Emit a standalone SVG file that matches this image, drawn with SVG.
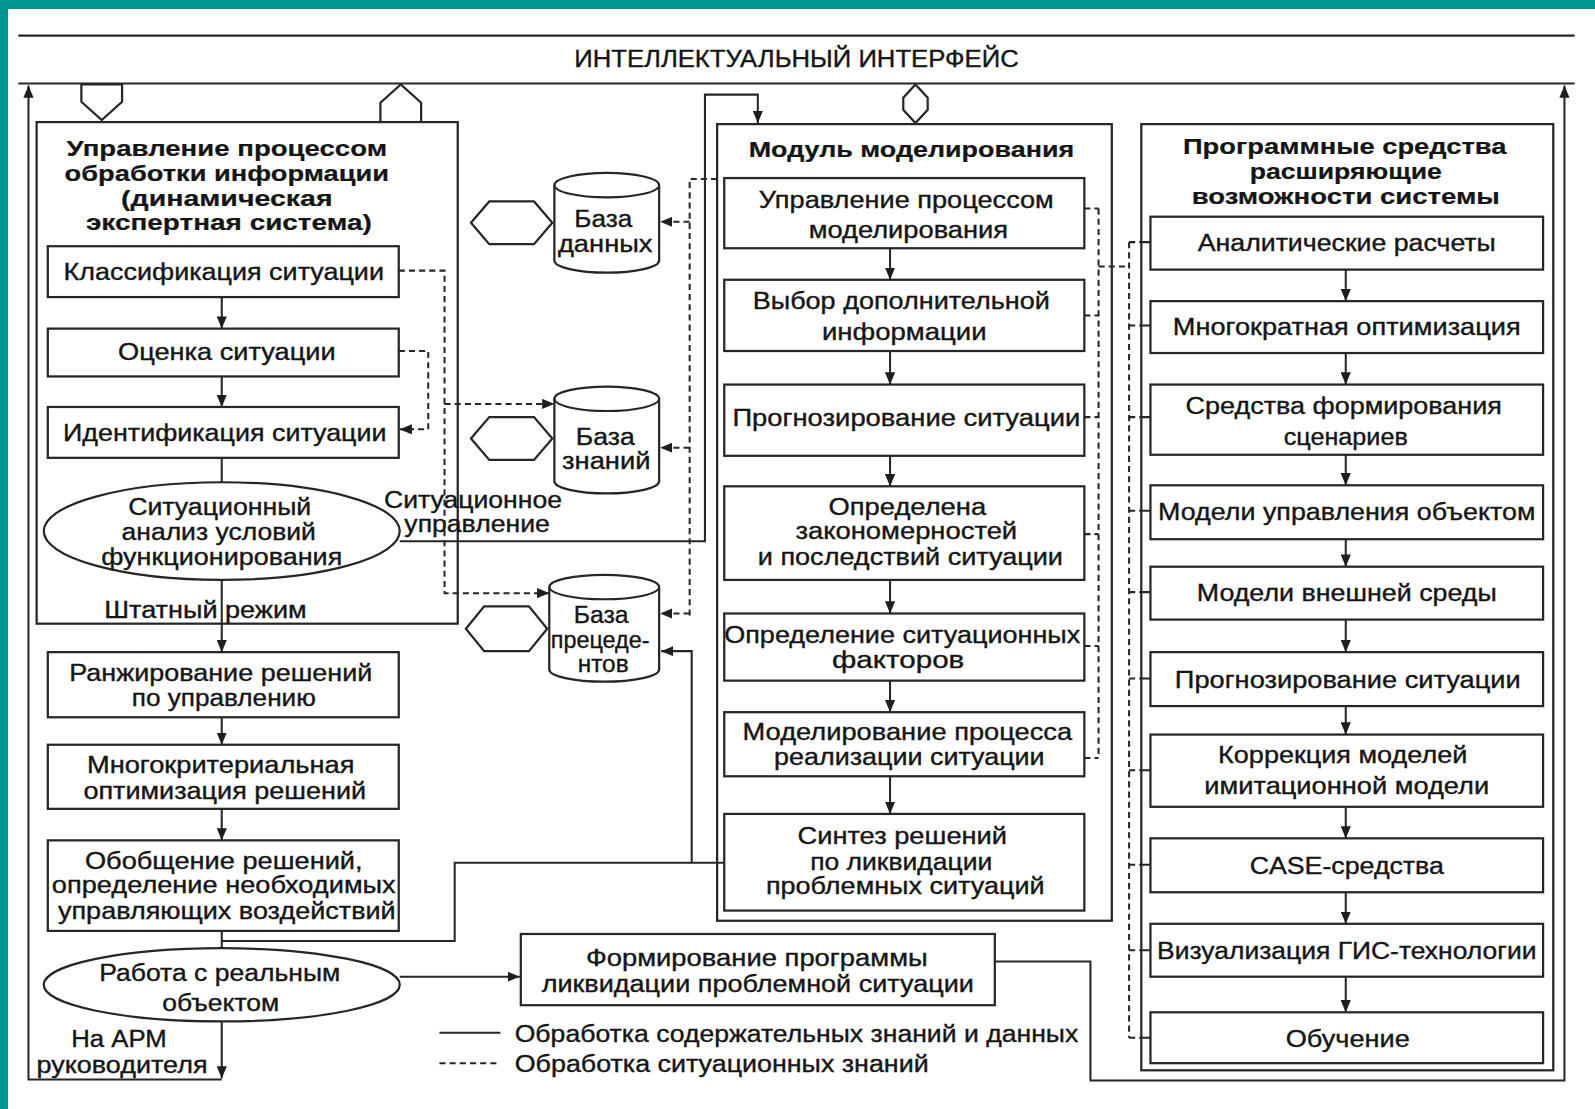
<svg xmlns="http://www.w3.org/2000/svg" width="1595" height="1109" viewBox="0 0 1595 1109">
  <defs>
    <style>
      .b { fill: #ffffff; stroke: #262626; stroke-width: 2.2; }
      .l { fill: none; stroke: #262626; stroke-width: 2; }
      .d { fill: none; stroke: #262626; stroke-width: 2; stroke-dasharray: 6 4; }
      .t { font-family: "Liberation Sans", Arial, sans-serif; font-size: 23px; fill: #151515; stroke: #151515; stroke-width: 0.35; text-anchor: middle; }
      .tb { font-weight: bold; font-size: 22.5px; stroke-width: 0.2; }
      .ts { text-anchor: start; }
    </style>
    <marker id="ah" viewBox="0 0 12 10" refX="12" refY="5" markerWidth="12" markerHeight="10" markerUnits="userSpaceOnUse" orient="auto">
      <path d="M0,0 L12,5 L0,10 z" fill="#1e1e1e"/>
    </marker>
  </defs>

  <!-- page frame -->
  <rect x="0" y="0" width="1595" height="1109" fill="#00968f"/>
  <rect x="8" y="9" width="1587" height="1100" fill="#ffffff"/>

  <g transform="scale(1.0172,1.0174)">
    <!-- interface band -->
    <g id="interface">
      <line class="l" x1="18" y1="35" x2="1548" y2="35"/>
      <line class="l" x1="18" y1="82" x2="1548" y2="82"/>
      <text class="t" x="783" y="66" font-size="22.5" textLength="437" lengthAdjust="spacingAndGlyphs">ИНТЕЛЛЕКТУАЛЬНЫЙ ИНТЕРФЕЙС</text>
      <polygon class="b" points="80,83 120,83 120,100 100,118 80,100"/>
      <polygon class="b" points="374,120 374,101 394,83 414,101 414,120"/>
      <polygon class="b" points="900,83 912,96 912,108 900,121 888,108 888,96"/>
    </g>

    <!-- expert system block -->
    <g id="expert-system">
      <rect class="b" x="36" y="120" width="414" height="493"/>
      <g class="t tb">
        <text x="223" y="153" textLength="315" lengthAdjust="spacingAndGlyphs">Управление процессом</text>
        <text x="223" y="178" textLength="319" lengthAdjust="spacingAndGlyphs">обработки информации</text>
        <text x="223" y="202" textLength="208" lengthAdjust="spacingAndGlyphs">(динамическая</text>
        <text x="225" y="226" textLength="281" lengthAdjust="spacingAndGlyphs">экспертная система)</text>
      </g>
    </g>
    <g id="classify">
      <rect class="b" x="47" y="242" width="345" height="50"/>
      <text class="t" x="220" y="275" textLength="315" lengthAdjust="spacingAndGlyphs">Классификация ситуации</text>
    </g>
    <g id="assess">
      <rect class="b" x="47" y="323" width="345" height="47"/>
      <text class="t" x="223" y="354" textLength="214" lengthAdjust="spacingAndGlyphs">Оценка ситуации</text>
    </g>
    <g id="identify">
      <rect class="b" x="47" y="400" width="345" height="50"/>
      <text class="t" x="221" y="433" textLength="318" lengthAdjust="spacingAndGlyphs">Идентификация ситуации</text>
    </g>
    <g id="analysis">
      <ellipse class="b" cx="218" cy="522" rx="175" ry="48"/>
      <text class="t" x="216" y="506" textLength="180" lengthAdjust="spacingAndGlyphs">Ситуационный</text>
      <text class="t" x="215" y="531" textLength="191" lengthAdjust="spacingAndGlyphs">анализ условий</text>
      <text class="t" x="218" y="555" textLength="237" lengthAdjust="spacingAndGlyphs">функционирования</text>
    </g>
    <g id="ranking">
      <rect class="b" x="47" y="641" width="345" height="64"/>
      <text class="t" x="217" y="669" textLength="298" lengthAdjust="spacingAndGlyphs">Ранжирование решений</text>
      <text class="t" x="220" y="694" textLength="181" lengthAdjust="spacingAndGlyphs">по управлению</text>
    </g>
    <g id="multicriteria">
      <rect class="b" x="47" y="732" width="345" height="63"/>
      <text class="t" x="217" y="760" textLength="263" lengthAdjust="spacingAndGlyphs">Многокритериальная</text>
      <text class="t" x="221" y="785" textLength="278" lengthAdjust="spacingAndGlyphs">оптимизация решений</text>
    </g>
    <g id="generalize">
      <rect class="b" x="47" y="826" width="345" height="89"/>
      <text class="t" x="220" y="854" textLength="273" lengthAdjust="spacingAndGlyphs">Обобщение решений,</text>
      <text class="t" x="220" y="878" textLength="338" lengthAdjust="spacingAndGlyphs">определение необходимых</text>
      <text class="t" x="223" y="903" textLength="332" lengthAdjust="spacingAndGlyphs">управляющих воздействий</text>
    </g>
    <g id="real-object">
      <ellipse class="b" cx="218" cy="968" rx="175" ry="36"/>
      <text class="t" x="216" y="964" textLength="237" lengthAdjust="spacingAndGlyphs">Работа с реальным</text>
      <text class="t" x="217" y="994" textLength="115" lengthAdjust="spacingAndGlyphs">объектом</text>
    </g>
    <g id="program">
      <rect class="b" x="512" y="918" width="466" height="70"/>
      <text class="t" x="744" y="949" textLength="336" lengthAdjust="spacingAndGlyphs">Формирование программы</text>
      <text class="t" x="745" y="975" textLength="425" lengthAdjust="spacingAndGlyphs">ликвидации проблемной ситуации</text>
    </g>

    <!-- data stores -->
    <g id="db-data">
      <polygon class="b" points="463,219 481,198 525,198 543,219 525,240 481,240"/>
      <path class="b" d="M545,182 A51.5,12 0 0 1 648,182 V256 A51.5,12 0 0 1 545,256 Z"/>
      <path class="l" d="M545,182 A51.5,12 0 0 0 648,182"/>
      <text class="t" x="593" y="223" textLength="57" lengthAdjust="spacingAndGlyphs">База</text>
      <text class="t" x="595" y="248" textLength="93" lengthAdjust="spacingAndGlyphs">данных</text>
    </g>
    <g id="db-knowledge">
      <polygon class="b" points="463,431 481,410 525,410 543,431 525,452 481,452"/>
      <path class="b" d="M545,392 A51.5,12 0 0 1 648,392 V473 A51.5,12 0 0 1 545,473 Z"/>
      <path class="l" d="M545,392 A51.5,12 0 0 0 648,392"/>
      <text class="t" x="595" y="437" textLength="58" lengthAdjust="spacingAndGlyphs">База</text>
      <text class="t" x="596" y="461" textLength="87" lengthAdjust="spacingAndGlyphs">знаний</text>
    </g>
    <g id="db-precedents">
      <polygon class="b" points="458,618 476,596 520,596 538,618 520,640 476,640"/>
      <path class="b" d="M540,577 A54,12 0 0 1 648,577 V658 A54,12 0 0 1 540,658 Z"/>
      <path class="l" d="M540,577 A54,12 0 0 0 648,577"/>
      <text class="t" x="591" y="612" textLength="54" lengthAdjust="spacingAndGlyphs">База</text>
      <text class="t" x="590" y="637" textLength="97" lengthAdjust="spacingAndGlyphs">прецеде-</text>
      <text class="t" x="593" y="661" textLength="50" lengthAdjust="spacingAndGlyphs">нтов</text>
    </g>

    <!-- modelling module -->
    <g id="modelling">
      <rect class="b" x="705" y="122" width="388" height="783"/>
      <text class="t tb" x="896" y="154" textLength="320" lengthAdjust="spacingAndGlyphs">Модуль моделирования</text>
    </g>
    <g id="m-control">
      <rect class="b" x="712" y="175" width="354" height="69"/>
      <text class="t" x="891" y="204" textLength="290" lengthAdjust="spacingAndGlyphs">Управление процессом</text>
      <text class="t" x="893" y="234" textLength="196" lengthAdjust="spacingAndGlyphs">моделирования</text>
    </g>
    <g id="m-select">
      <rect class="b" x="712" y="275" width="354" height="70"/>
      <text class="t" x="886" y="304" textLength="292" lengthAdjust="spacingAndGlyphs">Выбор дополнительной</text>
      <text class="t" x="889" y="334" textLength="162" lengthAdjust="spacingAndGlyphs">информации</text>
    </g>
    <g id="m-forecast">
      <rect class="b" x="712" y="378" width="354" height="70"/>
      <text class="t" x="891" y="419" textLength="342" lengthAdjust="spacingAndGlyphs">Прогнозирование ситуации</text>
    </g>
    <g id="m-patterns">
      <rect class="b" x="712" y="478" width="354" height="92"/>
      <text class="t" x="892" y="506" textLength="155" lengthAdjust="spacingAndGlyphs">Определена</text>
      <text class="t" x="891" y="530" textLength="218" lengthAdjust="spacingAndGlyphs">закономерностей</text>
      <text class="t" x="895" y="555" textLength="300" lengthAdjust="spacingAndGlyphs">и последствий ситуации</text>
    </g>
    <g id="m-factors">
      <rect class="b" x="712" y="603" width="354" height="66"/>
      <text class="t" x="887" y="632" textLength="350" lengthAdjust="spacingAndGlyphs">Определение ситуационных</text>
      <text class="t" x="883" y="657" textLength="130" lengthAdjust="spacingAndGlyphs">факторов</text>
    </g>
    <g id="m-simulate">
      <rect class="b" x="712" y="700" width="354" height="63"/>
      <text class="t" x="892" y="727" textLength="324" lengthAdjust="spacingAndGlyphs">Моделирование процесса</text>
      <text class="t" x="894" y="752" textLength="266" lengthAdjust="spacingAndGlyphs">реализации ситуации</text>
    </g>
    <g id="m-synthesis">
      <rect class="b" x="712" y="800" width="354" height="95"/>
      <text class="t" x="887" y="830" textLength="206" lengthAdjust="spacingAndGlyphs">Синтез решений</text>
      <text class="t" x="886" y="855" textLength="179" lengthAdjust="spacingAndGlyphs">по ликвидации</text>
      <text class="t" x="890" y="879" textLength="274" lengthAdjust="spacingAndGlyphs">проблемных ситуаций</text>
    </g>

    <!-- extension software -->
    <g id="software">
      <rect class="b" x="1122" y="122" width="405" height="930"/>
      <g class="t tb">
        <text x="1322" y="151" textLength="318" lengthAdjust="spacingAndGlyphs">Программные средства</text>
        <text x="1323" y="176" textLength="189" lengthAdjust="spacingAndGlyphs">расширяющие</text>
        <text x="1323" y="201" textLength="303" lengthAdjust="spacingAndGlyphs">возможности системы</text>
      </g>
    </g>
    <g id="s-analytics">
      <rect class="b" x="1131" y="213" width="386" height="52"/>
      <text class="t" x="1324" y="247" textLength="293" lengthAdjust="spacingAndGlyphs">Аналитические расчеты</text>
    </g>
    <g id="s-optim">
      <rect class="b" x="1131" y="296" width="386" height="51"/>
      <text class="t" x="1324" y="329" textLength="342" lengthAdjust="spacingAndGlyphs">Многократная оптимизация</text>
    </g>
    <g id="s-scenarios">
      <rect class="b" x="1131" y="378" width="386" height="69"/>
      <text class="t" x="1321" y="407" textLength="311" lengthAdjust="spacingAndGlyphs">Средства формирования</text>
      <text class="t" x="1323" y="437" textLength="122" lengthAdjust="spacingAndGlyphs">сценариев</text>
    </g>
    <g id="s-objmodels">
      <rect class="b" x="1131" y="477" width="386" height="53"/>
      <text class="t" x="1324" y="511" textLength="371" lengthAdjust="spacingAndGlyphs">Модели управления объектом</text>
    </g>
    <g id="s-envmodels">
      <rect class="b" x="1131" y="557" width="386" height="52"/>
      <text class="t" x="1324" y="591" textLength="295" lengthAdjust="spacingAndGlyphs">Модели внешней среды</text>
    </g>
    <g id="s-forecast">
      <rect class="b" x="1131" y="641" width="386" height="53"/>
      <text class="t" x="1325" y="676" textLength="340" lengthAdjust="spacingAndGlyphs">Прогнозирование ситуации</text>
    </g>
    <g id="s-correction">
      <rect class="b" x="1131" y="722" width="386" height="71"/>
      <text class="t" x="1320" y="750" textLength="245" lengthAdjust="spacingAndGlyphs">Коррекция моделей</text>
      <text class="t" x="1324" y="780" textLength="280" lengthAdjust="spacingAndGlyphs">имитационной модели</text>
    </g>
    <g id="s-case">
      <rect class="b" x="1131" y="824" width="386" height="53"/>
      <text class="t" x="1324" y="859" textLength="191" lengthAdjust="spacingAndGlyphs">CASE-средства</text>
    </g>
    <g id="s-gis">
      <rect class="b" x="1131" y="908" width="386" height="52"/>
      <text class="t" x="1324" y="943" textLength="373" lengthAdjust="spacingAndGlyphs">Визуализация ГИС-технологии</text>
    </g>
    <g id="s-training">
      <rect class="b" x="1131" y="995" width="386" height="50"/>
      <text class="t" x="1325" y="1029" textLength="122" lengthAdjust="spacingAndGlyphs">Обучение</text>
    </g>

    <!-- free labels -->
    <g id="labels">
      <text class="t" x="465" y="499" textLength="175" lengthAdjust="spacingAndGlyphs">Ситуационное</text>
      <text class="t" x="469" y="523" textLength="143" lengthAdjust="spacingAndGlyphs">управление</text>
      <text class="t" x="202" y="607" textLength="199" lengthAdjust="spacingAndGlyphs">Штатный режим</text>
      <text class="t" x="117" y="1029" textLength="94" lengthAdjust="spacingAndGlyphs">На АРМ</text>
      <text class="t" x="120" y="1055" textLength="168" lengthAdjust="spacingAndGlyphs">руководителя</text>
    </g>

    <!-- legend -->
    <g id="legend">
      <line class="l" x1="432" y1="1015" x2="492" y2="1015"/>
      <line class="d" x1="432" y1="1045" x2="492" y2="1045"/>
      <text class="t ts" x="506" y="1024" textLength="554" lengthAdjust="spacingAndGlyphs">Обработка содержательных знаний и данных</text>
      <text class="t ts" x="506" y="1054" textLength="407" lengthAdjust="spacingAndGlyphs">Обработка ситуационных знаний</text>
    </g>

    <g id="connectors">
      <!-- left column flow -->
      <path class="l" d="M218,292 V323" marker-end="url(#ah)"/>
      <path class="l" d="M218,370 V400" marker-end="url(#ah)"/>
      <path class="l" d="M218,450 V474"/>
      <path class="l" d="M218,570 V641" marker-end="url(#ah)"/>
      <path class="l" d="M218,705 V732" marker-end="url(#ah)"/>
      <path class="l" d="M218,795 V826" marker-end="url(#ah)"/>
      <path class="l" d="M218,915 V932"/>
      <path class="l" d="M218,1004 V1060" marker-end="url(#ah)"/>
      <path class="l" d="M218,1061 H28 V84" marker-end="url(#ah)"/>
      <!-- solutions to synthesis and precedents -->
      <path class="l" d="M218,925 H447 V848 H712"/>
      <path class="l" d="M680,848 V640 H650" marker-end="url(#ah)"/>
      <!-- situational control to modelling module -->
      <path class="l" d="M393,532 H693 V93 H745 V121" marker-end="url(#ah)"/>
      <!-- real object to program -->
      <path class="l" d="M393,960 H511" marker-end="url(#ah)"/>
      <path class="l" d="M978,945 H1072 V1062 H1538 V84" marker-end="url(#ah)"/>

      <!-- modelling module flow -->
      <path class="l" d="M875,244 V275" marker-end="url(#ah)"/>
      <path class="l" d="M875,345 V378" marker-end="url(#ah)"/>
      <path class="l" d="M875,448 V478" marker-end="url(#ah)"/>
      <path class="l" d="M875,570 V603" marker-end="url(#ah)"/>
      <path class="l" d="M875,669 V700" marker-end="url(#ah)"/>
      <path class="l" d="M875,763 V800" marker-end="url(#ah)"/>

      <!-- software column flow -->
      <path class="l" d="M1323,265 V296" marker-end="url(#ah)"/>
      <path class="l" d="M1323,347 V378" marker-end="url(#ah)"/>
      <path class="l" d="M1323,447 V477" marker-end="url(#ah)"/>
      <path class="l" d="M1323,530 V557" marker-end="url(#ah)"/>
      <path class="l" d="M1323,609 V641" marker-end="url(#ah)"/>
      <path class="l" d="M1323,694 V722" marker-end="url(#ah)"/>
      <path class="l" d="M1323,793 V824" marker-end="url(#ah)"/>
      <path class="l" d="M1323,877 V908" marker-end="url(#ah)"/>
      <path class="l" d="M1323,960 V995" marker-end="url(#ah)"/>

      <!-- situational knowledge (dashed) -->
      <path class="d" d="M392,266 H437 V583 H540" marker-end="url(#ah)"/>
      <path class="d" d="M437,397 H545" marker-end="url(#ah)"/>
      <path class="d" d="M392,345 H421 V422 H393" marker-end="url(#ah)"/>
      <path class="d" d="M705,176 H678 V605"/>
      <path class="d" d="M678,218 H649" marker-end="url(#ah)"/>
      <path class="d" d="M678,440 H649" marker-end="url(#ah)"/>
      <path class="d" d="M678,603 H649" marker-end="url(#ah)"/>

      <!-- module to software links -->
      <path class="d" d="M1080,205 V745 M1066,205 H1080 M1066,310 H1080 M1066,410 H1080 M1066,525 H1080 M1066,635 H1080 M1066,745 H1080 M1080,262 H1110"/>
      <path class="d" d="M1110,238 V1020 M1110,238 H1122 M1110,320 H1122 M1110,410 H1122 M1110,502 H1122 M1110,582 H1122 M1110,667 H1122 M1110,757 H1122 M1110,850 H1122 M1110,934 H1122 M1110,1020 H1122"/>
      <path class="l" d="M1122,238 H1131 M1122,320 H1131 M1122,410 H1131 M1122,502 H1131 M1122,582 H1131 M1122,667 H1131 M1122,757 H1131 M1122,850 H1131 M1122,934 H1131 M1122,1020 H1131"/>
    </g>
  </g>
</svg>
